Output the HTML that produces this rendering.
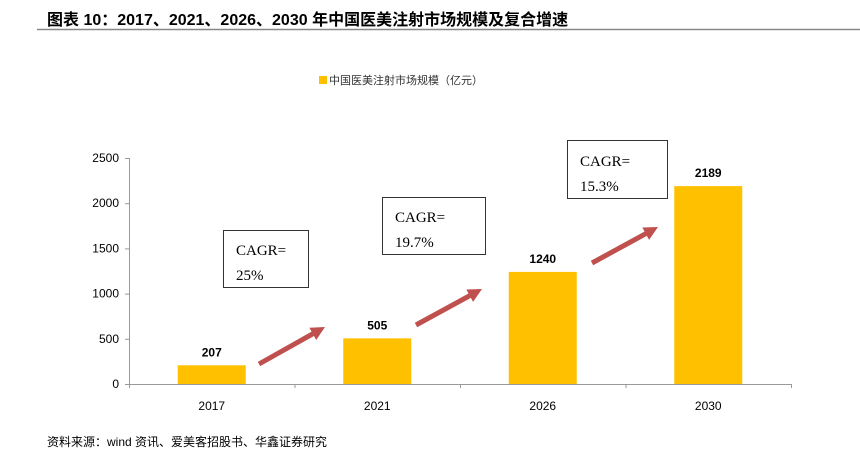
<!DOCTYPE html>
<html><head><meta charset="utf-8"><style>
body{margin:0;background:#fff;width:860px;height:459px;overflow:hidden;font-family:"Liberation Sans","Noto Sans CJK SC",sans-serif}
</style></head><body>
<svg width="860" height="459" xmlns="http://www.w3.org/2000/svg">
<text x="47" y="25" font-size="16" font-weight="bold" fill="#000" font-family="Liberation Sans,Noto Sans CJK SC,sans-serif">图表 10：2017、2021、2026、2030 年中国医美注射市场规模及复合增速</text>
<line x1="37" y1="29.5" x2="860" y2="29.5" stroke="#888" stroke-width="1.5"/>
<rect x="319" y="76" width="8" height="8" fill="#FFC000"/>
<text x="329" y="84" font-size="11" fill="#333" font-family="Liberation Sans,Noto Sans CJK SC,sans-serif">中国医美注射市场规模（亿元）</text>
<g id="plot"></g>
<g font-family="Liberation Serif,Noto Serif CJK SC,serif" font-size="15" fill="#000">
<rect x="223.5" y="230.5" width="85" height="57" fill="#fff" stroke="#333"/>
<text x="236" y="255">CAGR=</text><text x="236" y="280">25%</text>
<rect x="382.5" y="197.5" width="103" height="57" fill="#fff" stroke="#333"/>
<text x="395" y="222">CAGR=</text><text x="395" y="247">19.7%</text>
<rect x="567.5" y="140.5" width="100" height="58" fill="#fff" stroke="#333"/>
<text x="580" y="166">CAGR=</text><text x="580" y="191">15.3%</text>
</g>
<text x="47" y="446" font-size="12" fill="#000" font-family="Liberation Sans,Noto Sans CJK SC,sans-serif">资料来源：wind 资讯、爱美客招股书、华鑫证券研究</text>
</svg>
<script>
const categories=["2017","2021","2026","2030"];
const values=[207,505,1240,2189];
const yTicks=[0,500,1000,1500,2000,2500];
const NS="http://www.w3.org/2000/svg";
const g=document.getElementById('plot');
const x0=129,band=165.5,yTop=158,yBot=384,yMax=2500;
const y=v=>yBot-(v/yMax)*(yBot-yTop);
const xc=i=>x0+band*i+band/2;
function mk(t,a,p){const e=document.createElementNS(NS,t);for(const k in a)e.setAttribute(k,a[k]);(p||g).appendChild(e);return e;}
let e=mk('line',{x1:x0+0.5,y1:yTop,x2:x0+0.5,y2:yBot,stroke:'#999'});


e=mk('line',{x1:x0,y1:yBot+0.5,x2:x0+band*4,y2:yBot+0.5,stroke:'#999'});


yTicks.forEach(t=>{
 mk('line',{x1:x0-4,x2:x0,y1:y(t)+0.5,y2:y(t)+0.5,stroke:'#999'});
 const tx=mk('text',{x:x0-10,y:y(t)+4,'text-anchor':'end','font-size':12,fill:'#000'});tx.textContent=t;
 
 
});
for(let i=0;i<=4;i++)mk('line',{x1:x0+band*i+0.5,x2:x0+band*i+0.5,y1:yBot,y2:yBot+4,stroke:'#999'});
categories.forEach((c,i)=>{
 const b=mk('rect',{x:xc(i)-34,y:y(values[i]),width:68,height:yBot-y(values[i]),fill:'#FFC000'});
 
 
 const l=mk('text',{x:xc(i),y:y(values[i])-9,'text-anchor':'middle','font-size':12,'font-weight':'bold',fill:'#000'});l.textContent=values[i];
 
 
 const xl=mk('text',{x:xc(i),y:410,'text-anchor':'middle','font-size':12,fill:'#000'});xl.textContent=c;
 
 
});
[[259,364,325,327],[416,325,482,289],[592,263,658,227]].forEach((a,i)=>{
 const [x1,y1,x2,y2]=a,ang=Math.atan2(y2-y1,x2-x1),L=Math.hypot(x2-x1,y2-y1);
 const gg=mk('g',{transform:`translate(${x1},${y1}) rotate(${ang*180/Math.PI})`});
 
 
 mk('polygon',{points:`0,-2.5 ${L-14},-2.5 ${L-14},-7 ${L},0 ${L-14},7 ${L-14},2.5 0,2.5`,fill:'#C0504D'},gg);
});
</script>
</body></html>
